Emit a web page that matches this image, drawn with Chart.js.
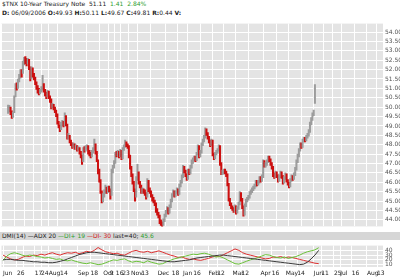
<!DOCTYPE html>
<html>
<head>
<meta charset="utf-8">
<script src="https://cdn.jsdelivr.net/npm/chart.js@4.4.1/dist/chart.umd.min.js"></script>
<style>
  html, body { margin: 0; padding: 0; background: #fff; }
  body { width: 400px; height: 279px; position: relative; overflow: hidden; font-family: "DejaVu Sans", Verdana, sans-serif; color: #222; }
  .hdr { position: absolute; left: 2px; font-size: 6px; line-height: 8px; white-space: nowrap; }
  #h1 { top: 0; }
  #h2 { top: 9px; }
  .up { color: #2f9e2f; }
  .dn { color: #d01818; }
  #strip { position: absolute; left: 0; top: 232px; width: 400px; height: 8px; background: #d6d6d6; font-size: 6px; line-height: 8px; padding-left: 2px; box-sizing: border-box; white-space: nowrap; }
  canvas { position: absolute; left: 0; }
  #price { top: 18px; }
  #dmi { top: 240px; }
</style>
</head>
<body>
<div class="hdr" id="h1">$TNX 10-Year Treasury Note&nbsp; 51.11&nbsp; <span class="up">1.41&nbsp; 2.84%</span></div>
<div class="hdr" id="h2"><b>D:</b> 06/09/2006 <b>O:</b>49.93 <b>H:</b>50.11 <b>L:</b>49.67 <b>C:</b>49.81 <b>R:</b>0.44 <b>V:</b></div>
<div id="strip">DMI(14) —ADX 20 <span class="up">—DI+ 19</span> <span class="dn">—DI- 30</span> last=40; <span class="up">45.6</span></div>
<canvas id="price" width="400" height="214"></canvas>
<canvas id="dmi" width="400" height="39"></canvas>
<script>
// daily bars, 09 Jun 2006 .. 07 Jun 2007
const closes = [
  49.81,49.95,49.70,49.55,49.60,50.55,51.15,51.05,51.40,51.60,
  51.90,51.75,52.35,52.50,52.45,52.40,52.50,52.10,51.55,52.05,
  51.70,51.55,51.30,51.10,50.90,50.80,50.85,50.95,51.20,50.90,
  50.75,50.60,50.80,50.55,50.40,50.00,50.10,49.95,49.80,49.60,
  49.20,49.00,48.80,49.10,49.20,49.05,49.50,49.10,48.40,48.45,
  48.20,48.05,47.90,48.00,47.85,47.90,47.75,47.80,47.60,47.40,
  47.10,47.75,47.70,47.85,47.90,47.60,47.50,47.40,47.60,47.75,
  48.00,47.60,47.20,46.60,46.10,45.50,45.00,45.30,45.50,45.70,
  45.50,45.70,45.60,45.20,46.60,46.80,47.05,47.50,47.45,47.60,
  47.40,47.65,47.30,47.75,47.90,48.10,48.00,47.90,47.40,46.80,
  46.40,46.00,45.60,45.10,46.20,46.50,46.00,45.80,45.50,45.60,
  45.50,45.40,45.20,46.10,45.60,45.50,45.30,45.10,45.00,44.85,
  44.50,44.35,44.20,43.90,43.80,43.75,43.95,44.20,44.40,44.60,
  44.40,44.70,45.00,45.30,45.50,45.30,45.45,45.60,45.40,45.80,
  46.00,46.30,46.80,46.60,46.40,46.20,46.60,46.50,46.80,47.10,
  47.20,47.30,47.20,47.50,47.90,47.40,47.60,48.00,48.20,48.40,
  48.80,48.60,48.40,48.20,48.00,48.20,47.50,47.30,47.50,47.60,
  47.70,47.90,47.00,46.50,46.50,46.60,46.55,46.40,45.90,45.10,
  44.85,44.70,44.60,44.50,44.70,44.40,44.60,44.85,45.40,45.10,
  44.70,44.30,44.75,45.00,45.10,45.20,45.40,45.50,45.60,45.70,
  45.80,46.00,45.90,46.00,46.20,46.10,46.30,47.10,46.90,46.95,
  47.10,47.30,47.20,47.00,46.80,46.40,46.30,46.50,46.35,46.10,
  46.30,46.50,46.30,46.00,46.20,46.40,46.10,45.95,45.80,46.10,
  46.30,46.20,46.40,46.70,47.10,47.40,47.70,48.00,47.90,48.20,
  48.30,48.25,48.40,48.50,48.70,49.10,49.35,49.60,49.70,51.11
];
const lows = [
  49.67,49.75,49.60,49.40,49.45,49.70,50.55,50.90,51.00,51.35,
  51.55,51.60,51.80,52.25,52.30,52.20,52.30,52.00,51.40,51.50,
  51.60,51.45,51.20,50.95,50.75,50.65,50.70,50.80,50.90,50.80,
  50.60,50.45,50.55,50.45,50.25,49.90,49.95,49.85,49.70,49.50,
  49.10,48.90,48.70,48.80,49.00,48.95,49.00,49.00,48.30,48.30,
  48.10,47.95,47.80,47.85,47.75,47.75,47.65,47.70,47.50,47.30,
  46.95,47.10,47.60,47.65,47.75,47.50,47.40,47.30,47.35,47.55,
  47.70,47.50,47.10,46.45,46.00,45.40,44.90,44.95,45.20,45.40,
  45.40,45.45,45.50,45.10,45.30,46.50,46.75,47.00,47.35,47.40,
  47.30,47.35,47.20,47.25,47.70,47.85,47.90,47.80,47.30,46.70,
  46.30,45.90,45.50,45.00,45.20,46.10,45.90,45.70,45.40,45.40,
  45.40,45.30,45.10,45.20,45.50,45.40,45.20,45.00,44.90,44.75,
  44.40,44.25,44.10,43.80,43.70,43.60,43.70,43.90,44.15,44.35,
  44.30,44.35,44.65,44.95,45.25,45.20,45.25,45.40,45.30,45.35,
  45.75,45.95,46.25,46.50,46.30,46.10,46.15,46.40,46.45,46.75,
  47.00,47.15,47.10,47.15,47.45,47.30,47.35,47.55,47.95,48.15,
  48.35,48.50,48.30,48.10,47.90,47.95,47.40,47.20,47.25,47.45,
  47.55,47.65,46.90,46.40,46.40,46.45,46.45,46.30,45.80,45.00,
  44.75,44.60,44.50,44.40,44.45,44.30,44.35,44.55,44.80,45.00,
  44.60,44.20,44.25,44.70,44.95,45.05,45.15,45.35,45.45,45.55,
  45.65,45.75,45.80,45.85,45.95,46.00,46.05,46.25,46.80,46.80,
  46.90,47.05,47.10,46.90,46.70,46.30,46.20,46.25,46.25,46.00,
  46.05,46.25,46.20,45.90,45.95,46.15,46.00,45.85,45.70,45.75,
  46.05,46.10,46.15,46.35,46.65,47.05,47.35,47.65,47.80,47.85,
  48.15,48.15,48.20,48.35,48.45,48.65,49.05,49.30,49.55,50.20
];
const highs = [
  50.11,50.10,50.00,49.80,49.75,50.60,51.25,51.30,51.50,51.75,
  52.00,52.00,52.45,52.65,52.70,52.60,52.60,52.55,52.15,52.15,
  52.10,51.80,51.60,51.35,51.15,51.00,50.95,51.10,51.70,51.25,
  50.95,50.80,50.90,50.85,50.60,50.45,50.20,50.15,50.00,49.85,
  49.65,49.25,49.05,49.20,49.30,49.25,49.70,49.55,49.10,48.60,
  48.50,48.25,48.10,48.10,48.05,48.00,47.95,47.90,47.85,47.65,
  47.45,47.85,47.90,47.95,48.00,47.95,47.70,47.60,47.70,47.85,
  48.30,48.05,47.65,47.20,46.70,46.15,45.55,45.40,45.60,45.85,
  45.75,45.80,45.80,45.65,46.70,46.90,47.15,47.60,47.65,47.70,
  47.65,47.75,47.70,47.85,48.00,48.25,48.15,48.05,47.95,47.45,
  46.85,46.45,46.05,45.65,46.30,46.95,46.55,46.05,45.85,45.70,
  45.65,45.60,45.45,46.20,46.10,45.70,45.55,45.35,45.20,45.05,
  44.90,44.60,44.40,44.25,44.00,43.90,44.05,44.30,44.50,44.70,
  44.65,44.80,45.10,45.40,45.60,45.55,45.55,45.70,45.65,45.90,
  46.10,46.40,46.90,46.85,46.65,46.45,46.70,46.70,46.90,47.20,
  47.30,47.40,47.40,47.60,48.00,47.95,47.70,48.10,48.30,48.50,
  48.90,48.85,48.65,48.45,48.25,48.30,48.25,47.55,47.60,47.70,
  47.80,48.00,47.95,47.05,46.65,46.70,46.70,46.60,46.45,45.95,
  45.15,44.90,44.75,44.65,44.80,44.75,44.70,44.95,45.50,45.45,
  45.15,44.75,44.85,45.10,45.20,45.30,45.50,45.60,45.70,45.80,
  45.90,46.10,46.10,46.10,46.30,46.30,46.40,47.20,47.15,47.05,
  47.20,47.40,47.40,47.25,47.05,46.85,46.50,46.60,46.55,46.40,
  46.40,46.60,46.55,46.35,46.30,46.50,46.45,46.15,46.00,46.20,
  46.40,46.35,46.50,46.80,47.20,47.50,47.80,48.10,48.10,48.30,
  48.40,48.40,48.50,48.60,48.80,49.20,49.45,49.70,49.85,51.20
];

// DMI(14), one reading every 3 bars
const dmiAdx = [
  20,21,21,20,19,19,18,17,16,16, 15,15,14,14,15,17,19,22,25,28,
  31,33,35,36,36,35,34,33,32,31, 30,29,28,27,26,25,24,23,22,21,
  20,19,18,17,16,16,17,18,19,20, 22,24,25,26,27,28,29,30,30,29,
  28,27,26,25,24,23,22,21,20,19, 18,17,16,15,14,13,12,11,10,11,
  15,22,30,40
];
const dmiPlus = [
  19,28,33,35,33,30,28,30,29,27, 26,24,25,23,21,22,19,18,20,17,
  15,13,12,14,12,10,11,14,17,20, 19,21,22,18,15,17,16,14,18,15,
  13,11,12,16,19,22,24,26,28,30, 32,31,33,34,32,29,26,27,24,20,
  16,12,11,14,17,20,22,25,28,31, 30,27,25,24,26,23,25,27,30,34,
  37,39,41,45.6
];
const dmiMinus = [
  30,26,22,20,21,25,28,27,30,29, 32,30,33,35,32,30,33,35,34,36,
  33,35,38,36,40,46,41,37,35,33, 34,31,30,34,38,40,37,36,38,35,
  37,39,36,33,30,28,25,26,23,21, 22,20,19,21,23,26,28,27,31,35,
  39,43,40,35,32,30,28,26,24,22, 23,26,25,27,24,26,25,23,21,19,
  17,15,13,12
];

// date axis: bar index of each label
const tickIdx  = [0, 11, 16, 25, 30, 36, 45, 59, 69, 79, 84, 89, 94, 101, 109, 122, 133, 142, 150, 162, 169, 181, 188, 203, 212, 223, 232, 245, 251, 261, 266, 275, 287, 295];
const tickText = ['Jun','26','','17','24','Aug','14','Sep','18','Oct','9','16','23','Nov','13','Dec','18','Jan','16','Feb','12','Mar','12','Apr','16','May','14','Jun','11','25','Jul','16','Aug','13'];

const priceTicks = [44,44.5,45,45.5,46,46.5,47,47.5,48,48.5,49,49.5,50,50.5,51,51.5,52,52.5,53,53.5,54];
const dmiTicks = [10, 20, 30, 40];

const FONT = { family: '"DejaVu Sans", Verdana, sans-serif', size: 6 };

const plotBg = {
  id: 'plotBg',
  beforeDraw(chart) {
    const { ctx, chartArea: a } = chart;
    ctx.save();
    ctx.fillStyle = '#e4e4e4';
    ctx.fillRect(a.left, a.top, a.right - a.left, a.bottom - a.top);
    ctx.restore();
  }
};

function dateAxis(showLabels) {
  return {
    type: 'linear',
    min: -1.2,
    max: 299.7,
    afterBuildTicks: s => { s.ticks = tickIdx.map(v => ({ value: v })); },
    afterFit: s => { s.height = showLabels ? 12 : 0; },
    grid: { color: '#ffffff', lineWidth: 1, drawTicks: false },
    border: { display: false },
    ticks: showLabels
      ? { autoSkip: false, maxRotation: 0, align: 'start', padding: 3, color: '#222', font: FONT,
          callback: (v, i) => tickText[i] }
      : { display: false }
  };
}

function valueAxis(min, max, list, fmt) {
  return {
    position: 'right',
    min, max,
    afterBuildTicks: s => { s.ticks = list.map(v => ({ value: v })); },
    afterFit: s => { s.width = 17; },
    grid: { color: '#ffffff', lineWidth: 1, drawTicks: false },
    border: { display: false },
    ticks: { autoSkip: false, padding: 2, color: '#555', font: FONT, callback: fmt }
  };
}

new Chart(document.getElementById('price'), {
  type: 'bar',
  data: {
    datasets: [{
      data: lows.map((lo, i) => ({ x: i, y: [lo, highs[i]] })),
      backgroundColor: closes.map((c, i) => (i > 0 && c < closes[i - 1]) ? '#cc1010' : '#9c9c9c'),
      barThickness: 1.4
    }]
  },
  options: {
    responsive: false,
    animation: false,
    layout: { padding: { left: 1, right: 0, top: 0, bottom: 0 } },
    plugins: { legend: { display: false }, tooltip: { enabled: false } },
    scales: {
      x: dateAxis(false),
      y: valueAxis(43.65, 54.45, priceTicks, v => v.toFixed(2))
    }
  },
  plugins: [plotBg]
});

const dmiLine = (vals, color) => ({
  data: vals.map((v, k) => ({ x: k * 3, y: v })),
  borderColor: color,
  borderWidth: 1,
  pointRadius: 0,
  tension: 0
});

new Chart(document.getElementById('dmi'), {
  type: 'line',
  data: {
    datasets: [
      dmiLine(dmiAdx, '#3a3a3a'),
      dmiLine(dmiPlus, '#6cc23a'),
      dmiLine(dmiMinus, '#dd3030')
    ]
  },
  options: {
    responsive: false,
    animation: false,
    layout: { padding: { left: 1, right: 0, top: 0, bottom: 0 } },
    plugins: { legend: { display: false }, tooltip: { enabled: false } },
    scales: {
      x: dateAxis(true),
      y: valueAxis(5, 50, dmiTicks, v => String(v))
    }
  },
  plugins: [plotBg]
});
</script>
</body>
</html>
